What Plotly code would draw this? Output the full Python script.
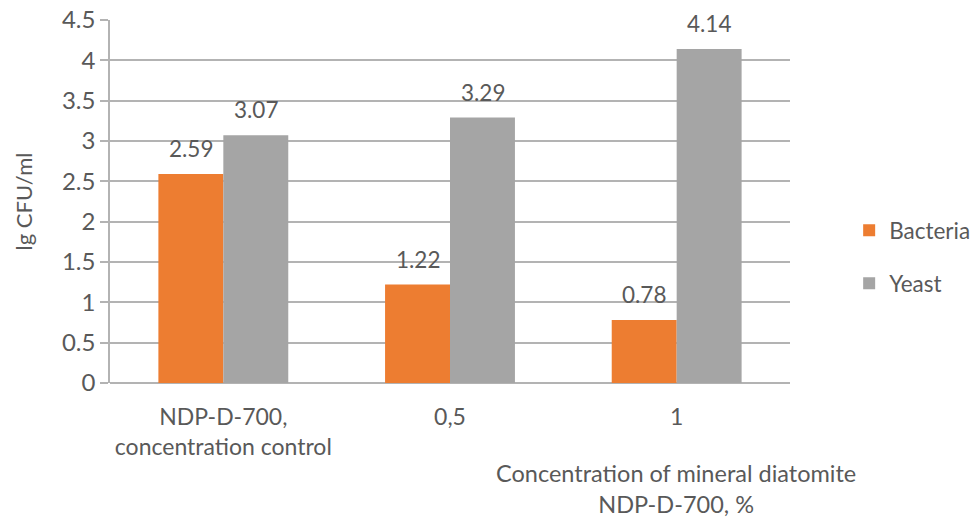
import plotly.graph_objects as go

# Microbial counts by diatomite concentration
categories = ["NDP-D-700,<br>concentration control", "0,5", "1"]
bacteria = [2.59, 1.22, 0.78]
yeast = [3.07, 3.29, 4.14]
y_ticks = [0, 0.5, 1, 1.5, 2, 2.5, 3, 3.5, 4, 4.5]

FONT = "Lato"
TEXT = "#595959"
GRID = "#b3b3b3"
ORANGE = "#ED7D31"
GREY = "#A5A5A5"

fig = go.Figure()
fig.add_trace(go.Bar(name="Bacteria", x=categories, y=bacteria,
                     marker=dict(color=ORANGE, line=dict(width=0)),
                     legend="legend", showlegend=True))
fig.add_trace(go.Bar(name="Yeast", x=categories, y=yeast,
                     marker=dict(color=GREY, line=dict(width=0)),
                     legend="legend2", showlegend=True))

# value labels above each bar
for vals, off in ((bacteria, -0.5), (yeast, 0.5)):
    for i, v in enumerate(vals):
        fig.add_annotation(x=i, y=v, xref="x", yref="y", text=f"{v:.2f}",
                           showarrow=False, yanchor="bottom", yshift=10,
                           xshift=off * 65,
                           font=dict(family=FONT, size=22.5, color=TEXT))

# x-axis title, placed under the right part of the plot
fig.add_annotation(x=0.833, y=-0.205, xref="paper", yref="paper",
                   text="Concentration of mineral diatomite<br>NDP-D-700, %",
                   showarrow=False, xanchor="center", yanchor="top",
                   align="center",
                   font=dict(family=FONT, size=23.5, color=TEXT))

fig.update_layout(
    width=978, height=519,
    margin=dict(l=110, r=188, t=20, b=136, autoexpand=False),
    paper_bgcolor="white", plot_bgcolor="white",
    barmode="group", bargap=0.427, bargroupgap=0,
    showlegend=True,
    font=dict(family=FONT, size=23, color=TEXT),
    legend=dict(x=1.087, y=0.42, xanchor="left", yanchor="middle",
                font=dict(family=FONT, size=22.5, color=TEXT),
                bgcolor="rgba(0,0,0,0)"),
    legend2=dict(x=1.087, y=0.274, xanchor="left", yanchor="middle",
                 font=dict(family=FONT, size=22.5, color=TEXT),
                 bgcolor="rgba(0,0,0,0)"),
    xaxis=dict(showgrid=False, showline=False, ticks="",
               ticklabelstandoff=18,
               tickfont=dict(family=FONT, size=23, color=TEXT)),
    yaxis=dict(range=[0, 4.5], tickvals=y_ticks,
               ticktext=[f"{t:g}" for t in y_ticks],
               showgrid=True, gridcolor=GRID, gridwidth=1.5,
               showline=True, linecolor=GRID, linewidth=1.5,
               ticks="outside", ticklen=8, tickcolor=GRID, tickwidth=1.5,
               zeroline=True, zerolinecolor=GRID, zerolinewidth=1.5,
               tickfont=dict(family=FONT, size=24, color=TEXT),
               title=dict(text="lg CFU/ml", standoff=23,
                          font=dict(family=FONT, size=22, color=TEXT))),
)

fig.write_html("out.html")
